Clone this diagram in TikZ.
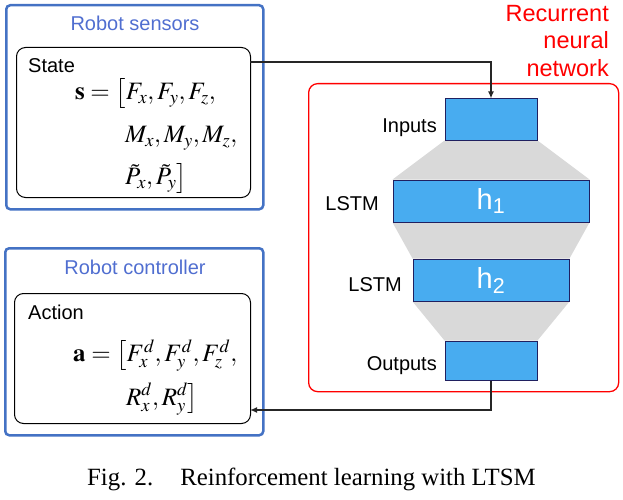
\documentclass[tikz,border=0pt]{standalone}
\usepackage{mathptmx}
\usepackage{fontspec}
\setmainfont{Liberation Serif}
\setsansfont{Liberation Sans}
\usetikzlibrary{arrows.meta,backgrounds}
\definecolor{boxblue}{RGB}{68,114,196}
\definecolor{titleblue}{RGB}{80,110,208}
\definecolor{cellfill}{RGB}{72,172,240}
\definecolor{celledge}{RGB}{32,32,96}
\definecolor{funnel}{RGB}{217,217,217}
\tikzset{
  outerbox/.style={draw=boxblue, line width=2.5pt, rounded corners=4pt, anchor=north west, inner sep=0pt},
  innerbox/.style={draw=black, line width=1pt, rounded corners=9pt, anchor=north west, inner sep=0pt},
  lab/.style={font=\sffamily\fontsize{20}{24}\selectfont, inner sep=0pt},
  grouptitle/.style={lab, text=titleblue},
  eqblock/.style={anchor=base west, inner sep=0pt},
  cell/.style={draw=celledge, line width=1pt, fill=cellfill, inner sep=0pt, text=white,
    font=\sffamily\fontsize{29}{32}\selectfont},
  conn/.style={draw=black!85, line width=1.4pt},
  tip/.style={-{Latex[length=7pt,width=6pt]}}
}
\begin{document}
\begin{tikzpicture}[x=1pt,y=-1pt]
\useasboundingbox (0,0) rectangle (623,500);
% Robot sensors
\node[outerbox, minimum width=257pt, minimum height=204pt] (sensors) at (5,4) {};
\node[grouptitle] (sensorsT) at (135,23) {Robot sensors};
\node[innerbox, minimum width=234pt, minimum height=150pt] (state) at (16,47) {};
\node[lab, anchor=west] (stateT) at (28,65.5) {State};
\node[eqblock, font=\fontsize{25}{42.5}\selectfont] (seq) at (75,100)
  {\begin{tabular}[t]{@{}l@{}}
   $\mathbf{s}=\big[F_x,F_y,F_z,$\\
   \hspace*{50pt}$M_x,M_y,M_z,$\\
   \hspace*{50pt}$\tilde{P}_x,\tilde{P}_y\big]$
   \end{tabular}};
% Robot controller
\node[outerbox, minimum width=258pt, minimum height=187pt] (ctrl) at (4,247) {};
\node[grouptitle] (ctrlT) at (135,267.5) {Robot controller};
\node[innerbox, minimum width=236pt, minimum height=130pt] (action) at (14,293) {};
\node[lab, anchor=west] (actionT) at (28,312.5) {Action};
\node[eqblock, font=\fontsize{25}{43.3}\selectfont] (aeq) at (73,361.7)
  {\begin{tabular}[t]{@{}l@{}}
   $\mathbf{a}=\big[F^d_x,F^d_y,F^d_z,$\\
   \hspace*{53pt}$R^d_x,R^d_y\big]$
   \end{tabular}};
% RNN
\node[draw=red, line width=1.3pt, rounded corners=9pt, anchor=north west, inner sep=0pt,
  minimum width=310pt, minimum height=308pt] (rnn) at (308,83) {};
\node[font=\sffamily\fontsize{23.5}{27.5}\selectfont, text=red, align=right, anchor=north east, inner sep=0pt] (rnnT) at (609,5) {Recurrent\\neural\\network};
\node[cell, minimum width=92pt, minimum height=41pt] (in) at (491,119.5) {};
\node[cell, minimum width=196pt, minimum height=42pt] (h1) at (491,201) {h\textsubscript{1}};
\node[cell, minimum width=156pt, minimum height=42pt] (h2) at (491,280) {h\textsubscript{2}};
\node[cell, minimum width=92pt, minimum height=39pt] (out) at (491,360.5) {};
\node[lab, anchor=base east] (inT) at (437,132) {Inputs};
\node[lab, anchor=base east] (h1T) at (379,210) {LSTM};
\node[lab, anchor=base east] (h2T) at (402,291) {LSTM};
\node[lab, anchor=base east] (outT) at (437,370.7) {Outputs};
\begin{pgfonlayer}{background}
\fill[funnel] (in.south west) -- (in.south east) -- (h1.north east) -- (h1.north west) -- cycle;
\fill[funnel] (h1.south west) -- (h1.south east) -- (h2.north east) -- (h2.north west) -- cycle;
\fill[funnel] (h2.south west) -- (h2.south east) -- (out.north east) -- (out.north west) -- cycle;
\end{pgfonlayer}
% connectors
\coordinate (stateOut) at (250,62);
\coordinate (actionIn) at (250,410);
\draw[conn, tip] (stateOut) -| (in.north);
\draw[conn, tip] (out.south) |- (actionIn);
% caption
\node[font=\fontsize{24.8}{28}\selectfont, anchor=base west, inner sep=0pt] (cap) at (87,485) {Fig. 2.\hspace{27pt}Reinforcement learning with LTSM};
\end{tikzpicture}
\end{document}
